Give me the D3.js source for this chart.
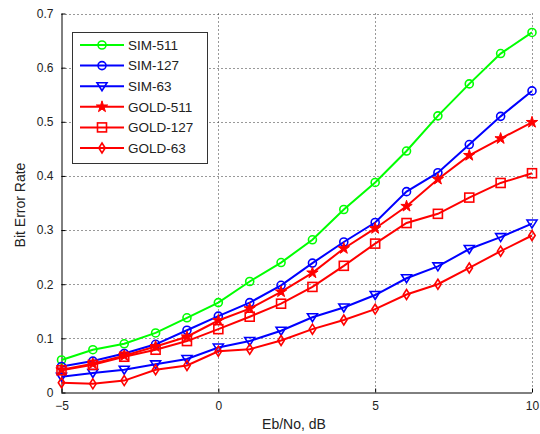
<!DOCTYPE html>
<html><head><meta charset="utf-8">
<script src="https://cdn.jsdelivr.net/npm/d3@7"></script>
<style>
html,body{margin:0;padding:0;background:#fff;}
svg{display:block;}
text{font-family:"Liberation Sans",Arial,sans-serif;fill:#222;}
</style></head>
<body>
<svg id="chart" width="540" height="434"></svg>
<script>
const ebno = [-5,-4,-3,-2,-1,0,1,2,3,4,5,6,7,8,9,10];
const sim511  = [0.060,0.079,0.090,0.110,0.138,0.166,0.205,0.240,0.282,0.338,0.388,0.446,0.511,0.570,0.626,0.665];
const sim127  = [0.048,0.058,0.072,0.089,0.115,0.141,0.166,0.198,0.239,0.278,0.314,0.371,0.406,0.458,0.510,0.557];
const sim63   = [0.029,0.036,0.042,0.052,0.062,0.083,0.095,0.114,0.139,0.157,0.180,0.211,0.233,0.265,0.287,0.312];
const gold511 = [0.042,0.053,0.068,0.085,0.103,0.133,0.155,0.186,0.221,0.266,0.303,0.344,0.394,0.438,0.469,0.499];
const gold127 = [0.041,0.051,0.066,0.079,0.095,0.117,0.140,0.164,0.195,0.234,0.275,0.313,0.330,0.360,0.387,0.405];
const gold63  = [0.018,0.016,0.022,0.042,0.050,0.076,0.080,0.096,0.117,0.134,0.154,0.181,0.200,0.230,0.261,0.290];
const seriesNames = ["SIM-511","SIM-127","SIM-63","GOLD-511","GOLD-127","GOLD-63"];
const xTicks = [-5,0,5,10];
const yTicks = [0,0.1,0.2,0.3,0.4,0.5,0.6,0.7];

const series = [
  {name:seriesNames[0], values:sim511,  color:"#00ff00", marker:"circle"},
  {name:seriesNames[1], values:sim127,  color:"#0000ff", marker:"circle"},
  {name:seriesNames[2], values:sim63,   color:"#0000ff", marker:"triangle"},
  {name:seriesNames[3], values:gold511, color:"#ff0000", marker:"star"},
  {name:seriesNames[4], values:gold127, color:"#ff0000", marker:"square"},
  {name:seriesNames[5], values:gold63,  color:"#ff0000", marker:"diamond"}
];

const svg = d3.select("#chart");
const L=61.5, R=532, T=13.5, B=392.5;
const x = d3.scaleLinear().domain([-5,10]).range([L,R]);
const y = d3.scaleLinear().domain([0,0.7]).range([B,T]);

// grid
const grid = svg.append("g");
grid.selectAll("line.gx").data(xTicks.filter(d=>d>-5)).enter().append("line")
  .attr("x1",d=>Math.round(x(d))+0.5).attr("x2",d=>Math.round(x(d))+0.5)
  .attr("y1",T).attr("y2",B)
  .attr("stroke","#333").attr("stroke-width",1).attr("stroke-dasharray","1,3");
grid.selectAll("line.gy").data(yTicks.filter(d=>d>0)).enter().append("line")
  .attr("x1",L).attr("x2",R)
  .attr("y1",d=>Math.round(y(d))+0.5).attr("y2",d=>Math.round(y(d))+0.5)
  .attr("stroke","#333").attr("stroke-width",1).attr("stroke-dasharray","1,3");

// axes
const xAxis = d3.axisBottom(x).tickValues(xTicks).tickSize(-4).tickPadding(9).tickFormat(d3.format("d"));
const yAxis = d3.axisLeft(y).tickValues(yTicks).tickSize(-4).tickPadding(8).tickFormat(d=>d===0?"0":d3.format(".1f")(d));
const gx = svg.append("g").attr("transform",`translate(0,${B})`).call(xAxis);
const gy = svg.append("g").attr("transform",`translate(${L},0)`).call(yAxis);
[gx,gy].forEach(g=>{
  g.select(".domain").attr("stroke","#000").attr("stroke-width",1);
  g.selectAll(".tick line").attr("stroke","#000");
  g.selectAll(".tick text").attr("font-size","12px").attr("fill","#222")
    .style("font-family","'Liberation Sans',Arial,sans-serif");
});
gy.select(".domain").attr("d",`M0.5,${T}V${B}`);
gx.select(".domain").attr("d",`M${L},0.5H${R}`);

// marker drawing
function drawMarker(g, type, color){
  if(type==="circle"){
    g.append("circle").attr("r",4).attr("fill","none").attr("stroke",color).attr("stroke-width",1.6);
  } else if(type==="square"){
    g.append("rect").attr("x",-4.5).attr("y",-4.5).attr("width",9).attr("height",9)
      .attr("fill","none").attr("stroke",color).attr("stroke-width",1.6);
  } else if(type==="triangle"){
    g.append("path").attr("d","M-5,-3.5L5,-3.5L0,4.5Z").attr("fill","none").attr("stroke",color).attr("stroke-width",1.6);
  } else if(type==="diamond"){
    g.append("path").attr("d","M0,-5L3.2,0L0,5L-3.2,0Z").attr("fill","none").attr("stroke",color).attr("stroke-width",1.6);
  } else if(type==="star"){
    g.append("path").attr("d",d3.symbol().type(d3.symbolStar).size(40)()).attr("fill",color).attr("stroke",color).attr("stroke-width",1);
  }
}

const line = d3.line().x((d,i)=>x(ebno[i])).y(d=>y(d));
const plot = svg.append("g");
series.forEach(s=>{
  plot.append("path").datum(s.values).attr("d",line)
    .attr("fill","none").attr("stroke",s.color).attr("stroke-width",2);
  s.values.forEach((v,i)=>{
    const m = plot.append("g").attr("transform",`translate(${x(ebno[i])},${y(v)})`);
    drawMarker(m, s.marker, s.color);
  });
});

// legend
const lg = svg.append("g");
lg.append("rect").attr("x",72.5).attr("y",32.5).attr("width",135).attr("height",131)
  .attr("fill","#fff").attr("stroke","#333").attr("stroke-width",1);
const rowY = d3.scalePoint().domain(seriesNames).range([45,148]);
series.forEach(s=>{
  const ry = rowY(s.name);
  lg.append("line").attr("x1",80).attr("x2",124).attr("y1",ry).attr("y2",ry)
    .attr("stroke",s.color).attr("stroke-width",2);
  drawMarker(lg.append("g").attr("transform",`translate(102,${ry})`), s.marker, s.color);
  lg.append("text").attr("x",128).attr("y",ry+4.8).attr("font-size","13.5px").attr("fill","#222").text(s.name);
});

// axis labels
svg.append("text").attr("x",294).attr("y",429).attr("text-anchor","middle").attr("font-size","14px").text("Eb/No, dB");
svg.append("text").attr("transform","translate(25,205) rotate(-90)").attr("text-anchor","middle").attr("font-size","14px").text("Bit Error Rate");
</script>
</body></html>
